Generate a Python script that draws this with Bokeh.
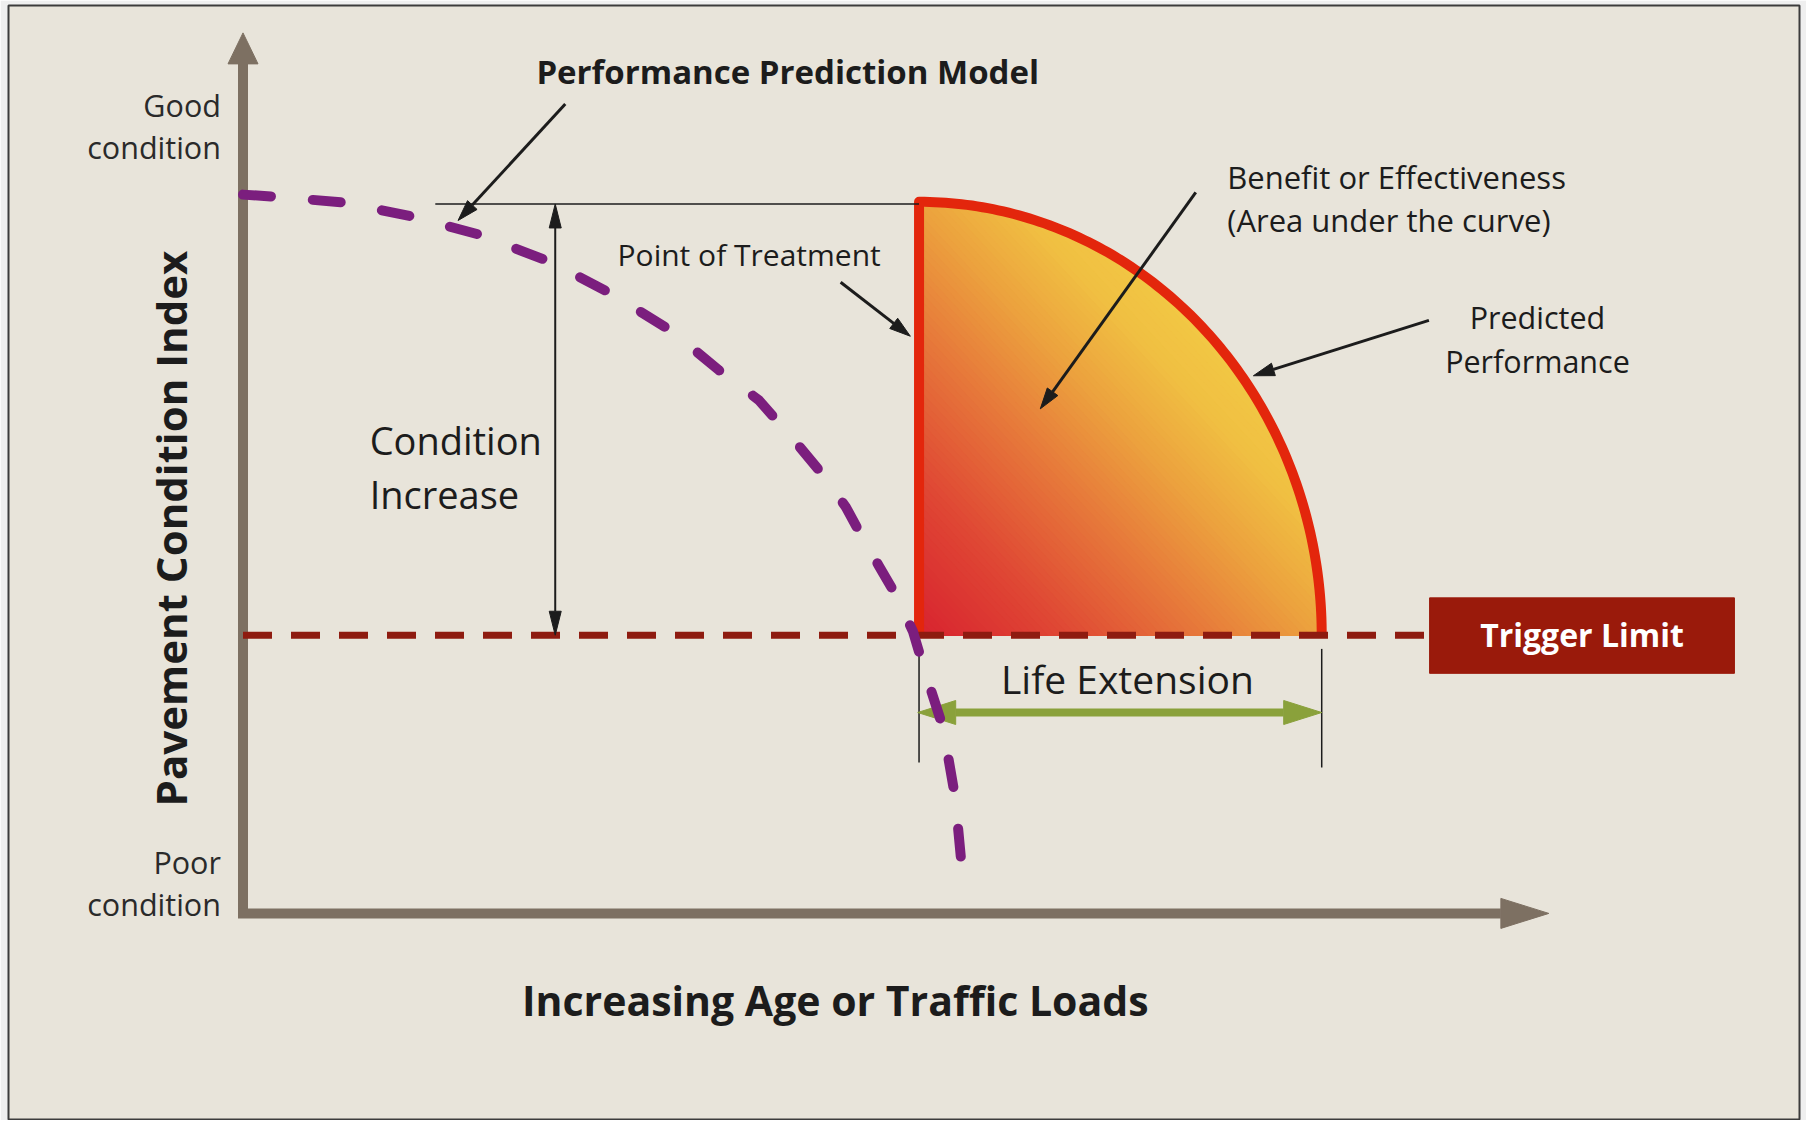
import math
import numpy as np
from bokeh.plotting import figure
from bokeh.models import Range1d
from bokeh.core.properties import value
from bokeh.embed import file_html
from bokeh.resources import INLINE

# ---------------- data (x: age / traffic, y: condition index) ----------------
curve_x = [0, 0.5, 1.5, 2.5, 3.5, 4.6, 5.5, 6.4, 7.1, 7.7, 8.3, 8.7, 9.0, 9.25,
           9.5, 9.75, 10.0, 10.15, 10.45, 10.63, 10.73]
curve_y = [100, 99.7, 98.9, 97.0, 94.5, 90.6, 86.2, 81.0, 75.6, 71.4, 65.0, 60.5,
           56.5, 52.2, 48.2, 44.2, 39.2, 34.5, 25.8, 16.1, 6.2]

trigger_level = 38.7
treatment_age = 10.09
treated_condition = 99.0
extended_age = 16.1
axis_top = 122.5
axis_right = 19.49
trigger_box_x = [17.71, 22.26]
trigger_box_y = [33.4, 43.9]
condition_arrow_x = 4.66
top_guide_x = [2.87, 10.09]
life_arrow_y = 27.95
life_guide_y = [36.8, 20.3]

# annotation arrows: (from, to)
ppm_arrow = ((4.81, 112.6), (3.21, 96.4))
pot_arrow = ((8.92, 87.8), (9.96, 80.3))
benefit_arrow = ((14.22, 100.3), (11.90, 70.2))
predicted_arrow = ((17.70, 82.5), (15.08, 74.8))

# text
title_text = "Performance Prediction Model"
y_title = "Pavement Condition Index"
x_title = "Increasing Age or Traffic Loads"
good_lines = ["Good", "condition"]
poor_lines = ["Poor", "condition"]
cond_inc_lines = ["Condition", "Increase"]
benefit_lines = ["Benefit or Effectiveness", "(Area under the curve)"]
predicted_lines = ["Predicted", "Performance"]

# ---------------- styling ----------------
BG = "#e8e4da"
EDGE = "#efefef"
AXC = "#7d7062"
PURPLE = "#7b1e7e"
TRIG = "#8e1b10"
BOX = "#9a1a0b"
RED = "#e3260c"
GREEN = "#8aa13b"
INK = "#1c1c1c"
FONT = value("Open Sans")

W, H = 1806, 1120
BL, BR, BT, BB = 8, 7, 5, 0
FW, FH = W - BL - BR, H - BT - BB
X0, X1 = -3.5, 23.231
Y0, Y1 = -28.81, 126.31
KX = FW / (X1 - X0)
KY = FH / (Y1 - Y0)

p = figure(width=W, height=H, x_range=Range1d(X0, X1), y_range=Range1d(Y0, Y1),
           output_backend="svg", toolbar_location=None,
           min_border_left=BL, min_border_right=BR, min_border_top=BT, min_border_bottom=BB)
p.axis.visible = False
p.grid.visible = False
p.background_fill_color = BG
p.border_fill_color = EDGE
p.outline_line_color = "#3c3c3c"
p.outline_line_width = 2


def head(frm, tip, L, Wd):
    dx = (tip[0] - frm[0]) * KX
    dy = (tip[1] - frm[1]) * KY
    n = math.hypot(dx, dy)
    ux, uy = dx / n, dy / n
    bx = tip[0] - L * ux / KX
    by = tip[1] - L * uy / KY
    px, py = -uy, ux
    xs = [tip[0], bx + Wd / 2 * px / KX, bx - Wd / 2 * px / KX]
    ys = [tip[1], by + Wd / 2 * py / KY, by - Wd / 2 * py / KY]
    return xs, ys, (bx, by)


def arrow(frm, tip, L, Wd, color, lw, both=False):
    hx, hy, base = head(frm, tip, L, Wd)
    start = frm
    heads_x, heads_y = [hx], [hy]
    if both:
        hx2, hy2, base2 = head(tip, frm, L, Wd)
        heads_x.append(hx2)
        heads_y.append(hy2)
        start = base2
    p.segment(x0=[start[0]], y0=[start[1]], x1=[base[0]], y1=[base[1]],
              line_color=color, line_width=lw)
    p.patches(heads_x, heads_y, fill_color=color, line_color=color, line_width=1)


# ---------------- gradient filled benefit area ----------------
cx, cy = treatment_age, trigger_level
rx, ry = extended_age - cx, treated_condition - cy

stop_t = [0.0, 0.18, 0.35, 0.5, 0.62, 0.72]
stop_c = ["#d8222f", "#df4634", "#e6763a", "#eca23e", "#f0bf42", "#f2c944"]
stop_rgb = np.array([[int(c[i:i + 2], 16) for i in (1, 3, 5)] for c in stop_c])


def col(t):
    r, g, b = (int(round(np.interp(t, stop_t, stop_rgb[:, k]))) for k in range(3))
    return "#%02x%02x%02x" % (r, g, b)


def region(c):
    if c <= 1:
        pts = [(0, 0), (c, 0), (0, c)]
    else:
        d = math.sqrt(max(0.0, 2 - c * c))
        u1, v1 = (c + d) / 2, (c - d) / 2
        a1 = math.atan2(v1, u1)
        a2 = math.pi / 2 - a1
        pts = [(0, 0)]
        pts += [(math.cos(a), math.sin(a)) for a in np.linspace(0, a1, 40)]
        pts += [(math.cos(a), math.sin(a)) for a in np.linspace(a2, math.pi / 2, 40)]
    return [cx + u * rx for u, v in pts], [cy + v * ry for u, v in pts]


layer_xs, layer_ys, layer_cols = [], [], []
for c in np.linspace(math.sqrt(2), 0.02, 80):
    xs, ys = region(c)
    layer_xs.append(xs)
    layer_ys.append(ys)
    layer_cols.append(col(c / 2))
p.patches(layer_xs, layer_ys, fill_color=layer_cols, line_color=layer_cols, line_width=1)

arc_a = np.linspace(math.pi / 2, 0, 120)
outline_x = [cx] + list(cx + rx * np.cos(arc_a))
outline_y = [cy] + list(cy + ry * np.sin(arc_a))
p.line(outline_x, outline_y, line_color=RED, line_width=10, line_join="round")

# ---------------- axes ----------------
arrow((0, -4 / KY), (0, axis_top), 31, 30, AXC, 10)
arrow((-5 / KX, 0), (axis_right, 0), 48, 30, AXC, 10)

# ---------------- trigger limit ----------------
p.line([0, trigger_box_x[0]], [trigger_level, trigger_level], line_color=TRIG,
       line_width=7, line_dash="29 19")
p.quad(left=[trigger_box_x[0]], right=[trigger_box_x[1]], bottom=[trigger_box_y[0]],
       top=[trigger_box_y[1]], fill_color=BOX, line_color=BOX)

# ---------------- guides ----------------
p.line(top_guide_x, [treated_condition - 0.3] * 2, line_color=INK, line_width=1.5)
p.segment(x0=[treatment_age, extended_age], y0=[life_guide_y[0]] * 2,
          x1=[treatment_age, extended_age], y1=[life_guide_y[1] + 0.7, life_guide_y[1]],
          line_color=INK, line_width=1.5)

arrow((condition_arrow_x, trigger_level), (condition_arrow_x, treated_condition - 0.3),
      24, 12, INK, 2, both=True)
arrow((treatment_age - 0.02, life_arrow_y), (extended_age, life_arrow_y), 38, 24,
      GREEN, 8, both=True)

# ---------------- performance curve ----------------
p.line(curve_x, curve_y, line_color=PURPLE, line_width=10, line_dash="28 42",
       line_cap="round", line_join="round")

# ---------------- pointer arrows ----------------
for frm, tip in (ppm_arrow, pot_arrow, benefit_arrow, predicted_arrow):
    arrow(frm, tip, 21, 13, INK, 3)

# ---------------- texts ----------------
p.text(x=[8.13], y=[117.1], text=[title_text], text_font=FONT, text_font_size="33px",
       text_font_style="bold", text_align="center", text_baseline="middle", text_color=INK)
p.text(x=[8.84], y=[-12.1], text=[x_title], text_font=FONT, text_font_size="41px",
       text_font_style="bold", text_align="center", text_baseline="middle", text_color=INK)
p.text(x=[-1.08], y=[53.55], text=[y_title], angle=math.pi / 2, text_font=FONT,
       text_font_size="42px", text_font_style="bold", text_align="center",
       text_baseline="middle", text_color=INK)

p.text(x=[-0.33, -0.33, -0.33, -0.33], y=[112.5, 106.6, 7.2, 1.3],
       text=good_lines + poor_lines, text_font=FONT, text_font_size="30.5px",
       text_align="right", text_baseline="middle", text_color="#2a2a2a")
p.text(x=[1.89, 1.89], y=[65.9, 58.4], text=cond_inc_lines, text_font=FONT,
       text_font_size="38px", text_align="left", text_baseline="middle", text_color=INK)
p.text(x=[5.59], y=[91.7], text=["Point of Treatment"], text_font=FONT,
       text_font_size="30px", text_align="left", text_baseline="middle", text_color=INK)
p.text(x=[14.69, 14.69], y=[102.4, 96.4], text=benefit_lines, text_font=FONT,
       text_font_size="31px", text_align="left", text_baseline="middle", text_color=INK)
p.text(x=[19.32, 19.32], y=[83.0, 76.9], text=predicted_lines, text_font=FONT,
       text_font_size="30.5px", text_align="center", text_baseline="middle", text_color=INK)
p.text(x=[13.2], y=[32.7], text=["Life Extension"], text_font=FONT,
       text_font_size="39px", text_align="center", text_baseline="middle", text_color=INK)
p.text(x=[sum(trigger_box_x) / 2], y=[38.8], text=["Trigger Limit"], text_font=FONT,
       text_font_size="32px", text_font_style="bold", text_align="center",
       text_baseline="middle", text_color="white")

open("out.html", "w").write(file_html(p, INLINE))
